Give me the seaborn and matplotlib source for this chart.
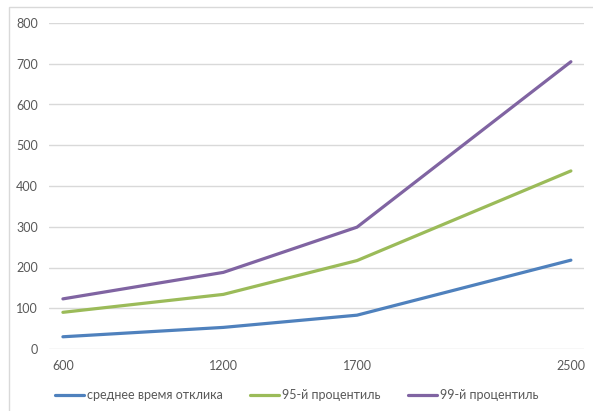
import matplotlib
matplotlib.use("Agg")
import matplotlib.pyplot as plt
from matplotlib.patches import Rectangle
import pandas as pd
import seaborn as sns

# Load levels and response-time metrics (ms)
load = [600, 1200, 1700, 2500]
mean_time = [30, 53, 83, 218]
p95 = [90, 134, 217, 437]
p99 = [123, 188, 299, 705]

series_names = ["среднее время отклика", "95-й процентиль", "99-й процентиль"]
colors = ["#4F81BD", "#9BBB59", "#8064A2"]

df = pd.DataFrame({
    "load": load * 3,
    "value": mean_time + p95 + p99,
    "series": [series_names[0]] * 4 + [series_names[1]] * 4 + [series_names[2]] * 4,
})

sns.set_theme(style="white")
plt.rcParams["font.family"] = ["Lato", "DejaVu Sans"]

W, H = 593, 411
fig = plt.figure(figsize=(W / 100, H / 100), dpi=100)
ax = fig.add_axes([49 / W, 1 - 349 / H, (584 - 49) / W, (349 - 23) / H])

sns.lineplot(data=df, x="load", y="value", hue="series", hue_order=series_names,
             palette=colors, linewidth=2.3, ax=ax, legend=True)

ax.set_xlim(548, 2549)
ax.set_ylim(0, 800)
ax.set_xticks(load)
ax.set_xticklabels([str(v) for v in load])
ax.set_yticks(range(0, 801, 100))
ax.yaxis.grid(True, color="#D9D9D9", linewidth=1)
ax.xaxis.grid(False)
for s in ax.spines.values():
    s.set_visible(False)
ax.tick_params(axis="both", length=0, labelsize=9, labelcolor="#595959")
ax.tick_params(axis="y", pad=8)
ax.tick_params(axis="x", pad=8)
ax.set_xlabel("")
ax.set_ylabel("")

handles, labels = ax.get_legend_handles_labels()
ax.get_legend().remove()
leg = fig.legend(handles, labels, loc="center", bbox_to_anchor=(0.5, 1 - 395 / H),
                 ncol=3, frameon=False, fontsize=9, handlelength=2.3,
                 handletextpad=0.25, columnspacing=2.2)
for t in leg.get_texts():
    t.set_color("#595959")

# Chart area border
fig.patches.append(Rectangle((9 / W, -0.1), 1.2, 1 - 7 / H + 0.1, transform=fig.transFigure,
                             fill=False, edgecolor="#D9D9D9", linewidth=1))

fig.savefig("out.png", dpi=100)
